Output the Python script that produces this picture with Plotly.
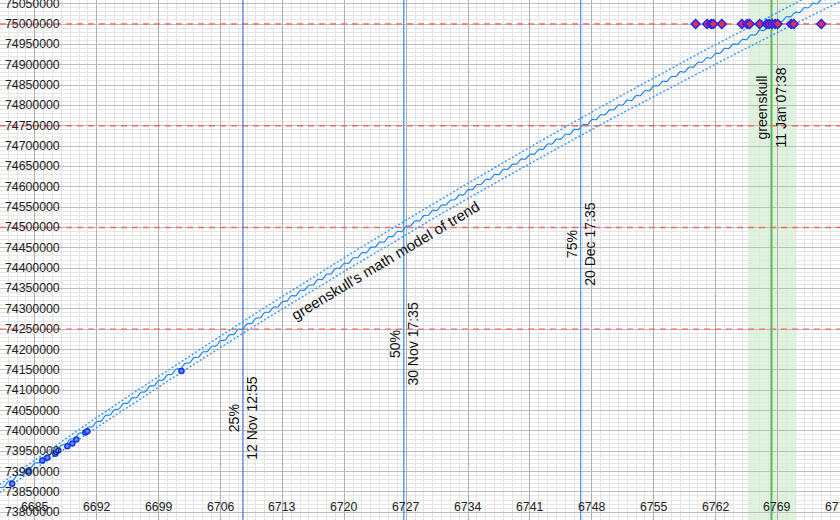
import numpy as np
import plotly.graph_objects as go

# ---------------- data ----------------
# greenskull's math model of the trend, half-day steps starting at day 6681 (values in thousands)
model_start_day = 6681
model_k = [
    73861, 73862, 73876, 73878, 73891, 73892, 73906, 73908, 73921, 73922,
    73935, 73936, 73950, 73952, 73965, 73966, 73980, 73981, 73994, 73996,
    74009, 74010, 74023, 74024, 74038, 74039, 74052, 74054, 74067, 74068,
    74081, 74082, 74095, 74096, 74110, 74111, 74124, 74125, 74138, 74139,
    74152, 74153, 74166, 74167, 74180, 74181, 74194, 74195, 74208, 74209,
    74222, 74223, 74236, 74237, 74250, 74250, 74263, 74264, 74277, 74278,
    74291, 74292, 74304, 74305, 74318, 74319, 74332, 74332, 74345, 74346,
    74358, 74359, 74372, 74372, 74385, 74386, 74399, 74400, 74412, 74412,
    74425, 74426, 74438, 74438, 74451, 74452, 74464, 74464, 74477, 74478,
    74490, 74490, 74503, 74504, 74516, 74516, 74529, 74530, 74542, 74542,
    74555, 74555, 74567, 74568, 74580, 74580, 74593, 74593, 74605, 74606,
    74618, 74618, 74630, 74630, 74643, 74643, 74655, 74656, 74668, 74668,
    74680, 74680, 74692, 74692, 74705, 74705, 74717, 74717, 74729, 74729,
    74741, 74741, 74753, 74753, 74765, 74765, 74777, 74777, 74789, 74789,
    74801, 74801, 74813, 74812, 74824, 74824, 74836, 74836, 74848, 74848,
    74859, 74859, 74871, 74871, 74883, 74882, 74894, 74894, 74906, 74906,
    74917, 74916, 74928, 74928, 74940, 74940, 74951, 74950, 74962, 74962,
    74973, 74973, 74985, 74984, 74996, 74996, 75007, 75006, 75018, 75018,
    75029, 75028, 75040, 75040, 75051, 75050, 75061, 75060, 75072, 75072,
    75083,
]

# dotted confidence bounds of the model (values in thousands)
bound_days = [6681, 6686, 6691, 6696, 6701, 6706, 6711, 6716, 6721, 6726,
              6731, 6736, 6741, 6746, 6751, 6756, 6761, 6766, 6771, 6776]
upper_k = [73868, 73943, 74018, 74091, 74162, 74233, 74303, 74371, 74439, 74505,
           74570, 74634, 74697, 74759, 74820, 74879, 74938, 74994, 75051, 75106]
lower_k = [73848, 73921, 73994, 74065, 74136, 74205, 74273, 74339, 74405, 74469,
           74534, 74596, 74657, 74717, 74776, 74833, 74890, 74946, 75001, 75054]

# observed points
early_days = [6682.44, 6684.26, 6685.84, 6686.41, 6687.31, 6687.65, 6688.67,
              6689.24, 6689.69, 6690.71, 6690.94, 6701.58]
early_vals = [73870000, 73900000, 73927000, 73934000, 73944000, 73952000, 73962000,
              73969000, 73979000, 73996000, 73999000, 74147000]

# guesses for the date the target is reached
guess_days = [6759.74, 6761.04, 6761.49, 6761.75, 6762.70, 6764.97, 6765.57, 6765.85,
              6766.98, 6767.78, 6768.06, 6768.40, 6768.74, 6769.02, 6770.55, 6770.84,
              6773.95]
guess_value = 75000000

# milestones
milestone_vals = [74250000, 74500000, 74750000, 75000000]
milestone_days = [6708.538, 6726.733, 6746.733, 6768.318]
milestone_names = ["25%", "50%", "75%", "greenskull"]
milestone_dates = ["12 Nov 12:55", "30 Nov 17:35", "20 Dec 17:35", "11 Jan 07:38"]
milestone_label_vals = [74032000, 74214000, 74459000, 74796000]
milestone_colors = ["#4a6fd8", "#2a8cf2", "#4d95ec", "#5cb85c"]
target_band = [6765.65, 6771.15]

model_label = "greenskull's math model of trend"
model_label_day = 6724.6
model_label_val = 74420000

x_ticks = list(range(6685, 6777, 7))
y_ticks = list(range(73800000, 75050001, 50000))

x_range = [6681.06, 6776.07]
y_range = [73781000, 75059000]

FONT = "Liberation Sans, Arial, Helvetica, sans-serif"

# ---------------- figure ----------------
fig = go.Figure()

model_days = model_start_day + 0.5 * np.arange(len(model_k))
model_vals = np.array(model_k) * 1000

# red dashed milestone levels
for v in milestone_vals:
    fig.add_trace(go.Scatter(x=x_range, y=[v, v], mode="lines",
                             line=dict(color="#ff6464", width=1.4, dash="6px,5px"),
                             hoverinfo="skip"))

# vertical milestone lines
for d, c in zip(milestone_days, milestone_colors):
    fig.add_trace(go.Scatter(x=[d, d], y=y_range, mode="lines",
                             line=dict(color=c, width=2 if c == "#5cb85c" else 1.2),
                             hoverinfo="skip"))

# bounds
fig.add_trace(go.Scatter(x=bound_days, y=np.array(upper_k) * 1000, mode="lines",
                         line=dict(color="#3d9bff", width=1.5, dash="2px,2px", shape="spline"),
                         hoverinfo="skip"))
fig.add_trace(go.Scatter(x=bound_days, y=np.array(lower_k) * 1000, mode="lines",
                         line=dict(color="#3d9bff", width=1.5, dash="2px,2px", shape="spline"),
                         hoverinfo="skip"))
# model
fig.add_trace(go.Scatter(x=model_days, y=model_vals, mode="lines",
                         line=dict(color="#1a88f5", width=1.2, shape="spline"),
                         hoverinfo="skip"))

# observed points
fig.add_trace(go.Scatter(x=early_days, y=early_vals, mode="markers",
                         marker=dict(symbol="circle", size=5, color="#5a8cff",
                                     line=dict(color="#1535e0", width=1.5)),
                         hoverinfo="skip"))
fig.add_trace(go.Scatter(x=guess_days, y=[guess_value] * len(guess_days), mode="markers",
                         marker=dict(symbol="diamond", size=7, color="#e0304a",
                                     line=dict(color="#2222ff", width=1.5)),
                         hoverinfo="skip"))

# green target band
fig.add_shape(type="rect", xref="x", yref="paper", x0=target_band[0], x1=target_band[1],
              y0=0, y1=1, fillcolor="#dcf6dc", line=dict(width=0), layer="below")

# annotations
ann = []
for v in y_ticks:
    ann.append(dict(x=0.004, xref="paper", y=v, yref="y", text=str(v), showarrow=False,
                    xanchor="left", yanchor="middle", font=dict(size=12.3, color="#222", family=FONT)))
for v in x_ticks:
    ann.append(dict(x=v, xref="x", y=1 - 507 / 520, yref="paper", text=str(v), showarrow=False,
                    xanchor="center", yanchor="middle", font=dict(size=12.3, color="#222", family=FONT)))
for d, n, t, lv in zip(milestone_days, milestone_names, milestone_dates, milestone_label_vals):
    ann.append(dict(x=d, xref="x", y=lv, yref="y", text=n + "<br>" + t, showarrow=False,
                    textangle=-90, xanchor="center", yanchor="middle", align="center",
                    font=dict(size=14, color="#111", family=FONT)))
ann.append(dict(x=model_label_day, xref="x", y=model_label_val, yref="y", text=model_label,
                showarrow=False, textangle=-31, xanchor="center", yanchor="middle",
                font=dict(size=15, color="#111", family=FONT)))

fig.update_layout(
    width=840, height=520,
    margin=dict(l=0, r=0, t=0, b=0),
    paper_bgcolor="white", plot_bgcolor="white",
    showlegend=False, hovermode=False,
    annotations=ann,
    xaxis=dict(range=x_range, showticklabels=False, ticks="", showline=False, zeroline=False,
               tick0=6685, dtick=7, showgrid=True, gridcolor="#b0b0b0", gridwidth=1,
               minor=dict(tick0=6685, dtick=1, showgrid=True, gridcolor="#e4e4e4", gridwidth=1)),
    yaxis=dict(range=y_range, showticklabels=False, ticks="", showline=False, zeroline=False,
               tick0=73800000, dtick=50000, showgrid=True, gridcolor="#bdbdbd", gridwidth=1,
               minor=dict(tick0=73800000, dtick=10000, showgrid=True, gridcolor="#e6e6e6", gridwidth=1)),
)

fig.write_html("out.html", config={"displayModeBar": False, "staticPlot": True},
               post_script="document.body.style.margin='0';document.body.style.padding='0';")
